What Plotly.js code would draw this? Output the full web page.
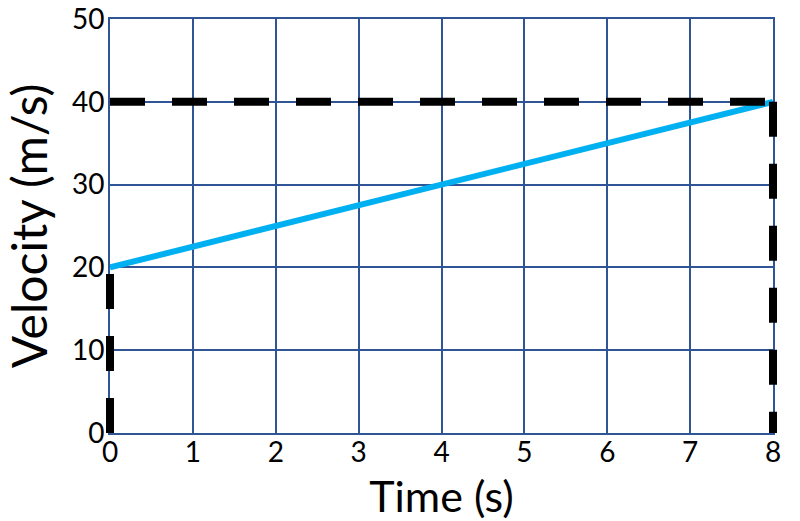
<!DOCTYPE html>
<html>
<head>
<meta charset="utf-8">
<script src="https://cdn.plot.ly/plotly-3.0.1.min.js"></script>
<style>html,body{margin:0;padding:0;background:#fff;}#chart{width:800px;height:521px;}</style>
</head>
<body>
<div id="chart"></div>
<script>
// Data
const timeS = [0, 8];
const velocity = [20, 40];
const finalVelX = [0, 8];
const finalVelY = [40, 40];
const startEdgeX = [0, 0];
const startEdgeY = [0, 20];
const endEdgeX = [8, 8];
const endEdgeY = [40, 0];
const xTicks = [0, 1, 2, 3, 4, 5, 6, 7, 8];
const yTicks = [0, 10, 20, 30, 40, 50];
const xRange = [0, 8];
const yRange = [0, 50];

// Layout geometry (pixels)
const W = 800, H = 521;
const padPx = 6;                 // extra room so edge lines are not clipped
const mL = 104, mR = 21, mT = 19, mB = 88;
const plotW = W - mL - mR;
const pxPerUnit = (plotW - 2 * padPx) / (xRange[1] - xRange[0]);
const padUnits = padPx / pxPerUnit;

const gridColor = '#2F5597';
const dashStyle = {color: '#000000', width: 8, dash: '35px,27px'};

const traces = [
  {x: timeS, y: velocity, xaxis: 'x', yaxis: 'y', mode: 'lines', line: {color: '#00B0F0', width: 6}},
  {x: finalVelX, y: finalVelY, xaxis: 'x2', yaxis: 'y2', mode: 'lines', line: dashStyle, hoverinfo: 'skip'},
  {x: startEdgeX, y: startEdgeY, xaxis: 'x2', yaxis: 'y2', mode: 'lines', line: dashStyle, hoverinfo: 'skip'},
  {x: endEdgeX, y: endEdgeY, xaxis: 'x2', yaxis: 'y2', mode: 'lines', line: dashStyle, hoverinfo: 'skip'}
];

const font = {family: 'Lato, "Open Sans", sans-serif', color: '#000000'};

const layout = {
  width: W, height: H,
  margin: {l: mL, r: mR, t: mT, b: mB},
  showlegend: false,
  paper_bgcolor: '#ffffff',
  plot_bgcolor: 'rgba(0,0,0,0)',
  font: font,
  xaxis: {
    domain: [padPx / plotW, 1 - padPx / plotW],
    anchor: 'y',
    range: xRange,
    tickvals: xTicks,
    ticktext: xTicks.map(String),
    showgrid: true, gridcolor: gridColor, gridwidth: 2,
    showline: true, linecolor: gridColor, linewidth: 2, mirror: true,
    zeroline: false, ticks: '', ticklen: 0, ticklabelstandoff: -7,
    tickfont: {family: font.family, size: 28, color: '#000'},
    title: {text: 'Time (s)', font: {family: font.family, size: 43, color: '#000'}, standoff: 17}
  },
  yaxis: {
    anchor: 'x',
    range: yRange,
    tickvals: yTicks,
    ticktext: yTicks.map(String),
    showgrid: true, gridcolor: gridColor, gridwidth: 2,
    showline: true, linecolor: gridColor, linewidth: 2, mirror: true,
    zeroline: false, ticks: '', ticklen: 0, ticklabelstandoff: -2,
    tickfont: {family: font.family, size: 28, color: '#000'},
    title: {text: 'Velocity (m/s)', font: {family: font.family, size: 48, color: '#000'}, standoff: 10}
  },
  xaxis2: {
    domain: [0, 1],
    anchor: 'y2',
    range: [xRange[0] - padUnits, xRange[1] + padUnits],
    visible: false, fixedrange: true
  },
  yaxis2: {
    domain: [0, 1],
    anchor: 'x2',
    range: yRange,
    visible: false, fixedrange: true
  }
};

Plotly.newPlot('chart', traces, layout, {displayModeBar: false, staticPlot: true});
</script>
</body>
</html>
